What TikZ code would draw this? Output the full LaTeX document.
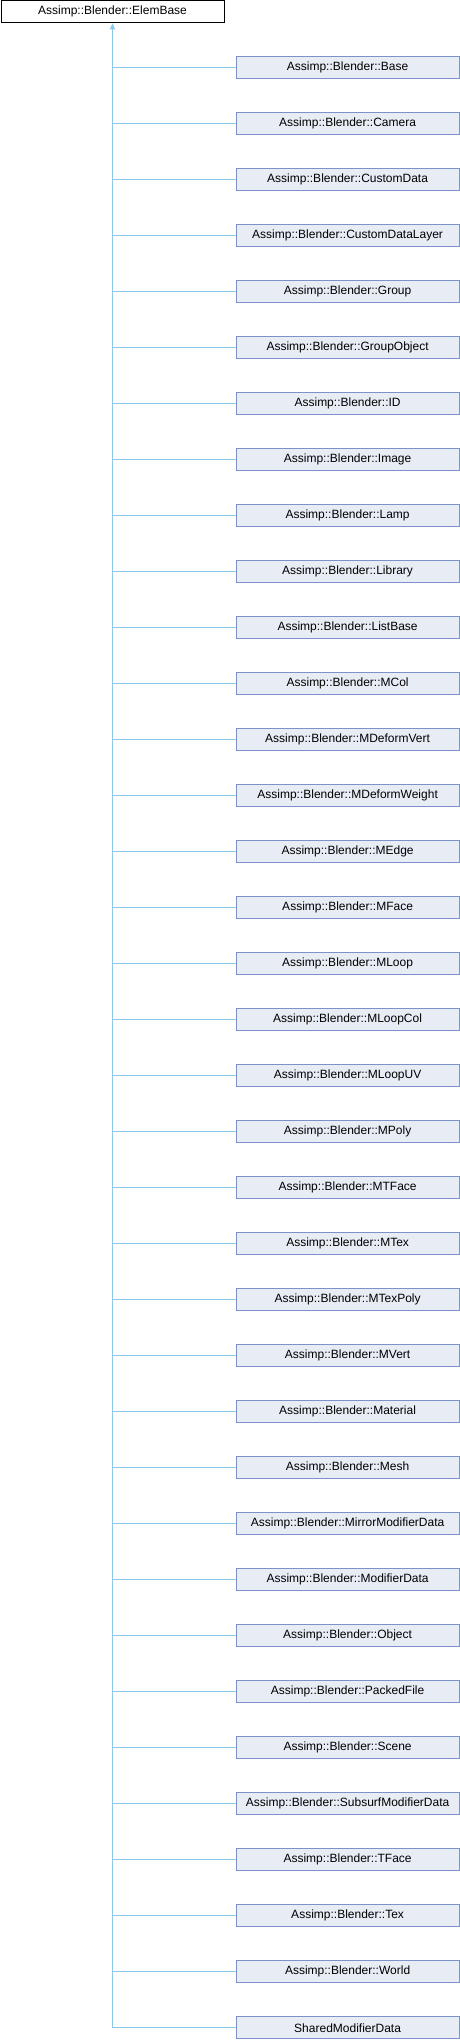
\documentclass[tikz,border=0pt]{standalone}
\usepackage{fontspec}
\setmainfont{Liberation Sans}
\usetikzlibrary{positioning, arrows.meta}
\definecolor{edgeblue}{HTML}{8CC8EC}
\definecolor{boxfill}{HTML}{E8ECF5}
\definecolor{boxline}{HTML}{7B93C9}

\begin{document}
\begin{tikzpicture}
	[x=1pt, y=-1pt, on grid, node distance=56pt,
	 cls/.style={draw=boxline, fill=boxfill, line width=1pt, minimum width=223pt,
	   minimum height=22pt, inner sep=0pt, font=\fontsize{12}{13}\selectfont},
	 root/.style={cls, draw=black, fill=white},
	 inherit/.style={draw=edgeblue, line width=1pt}]
   \useasboundingbox (0,0) rectangle (460,2040);
   \node[root] (elem) at (112.5,11.8) {Assimp::Blender::ElemBase};
   \node[cls] (c1) at (347.6,67.8) {Assimp::Blender::Base};
   \foreach \name [count=\i from 2, remember=\i as \j (initially 1)] in
     {Camera, CustomData, CustomDataLayer, Group, GroupObject, ID, Image, Lamp,
      Library, ListBase, MCol, MDeformVert, MDeformWeight, MEdge, MFace, MLoop,
      MLoopCol, MLoopUV, MPoly, MTFace, MTex, MTexPoly, MVert, Material, Mesh,
      MirrorModifierData, ModifierData, Object, PackedFile, Scene,
      SubsurfModifierData, TFace, Tex, World}
     \node[cls, below=of c\j] (c\i) {Assimp::Blender::\name};
   \node[cls, below=of c35] (c36) {SharedModifierData};
   % inheritance edges
   \coordinate (trunk) at (elem.south |- c36.west);
   \draw[inherit, -{Triangle[width=5pt,length=6pt,fill=edgeblue]}] (trunk) -- (elem.south);
   \foreach \i in {1,...,36}
     \draw[inherit] (c\i.west) -- (elem.south |- c\i.west);
\end{tikzpicture}
\end{document}
